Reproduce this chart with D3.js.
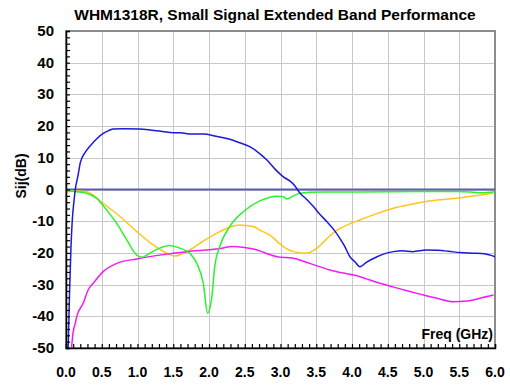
<!DOCTYPE html>
<html>
<head>
<meta charset="utf-8">
<script src="https://cdn.jsdelivr.net/npm/d3@7"></script>
<style>
  body { margin: 0; background: #fff; }
  svg { display: block; font-family: Arial, "Liberation Sans", sans-serif; }
</style>
</head>
<body>
<div id="chart"></div>
<script>
// values
const xTicks = [0, 0.5, 1, 1.5, 2, 2.5, 3, 3.5, 4, 4.5, 5, 5.5, 6];
const yTicks = [-50, -40, -30, -20, -10, 0, 10, 20, 30, 40, 50];

const blueF = [0.03, 0.05, 0.07, 0.09, 0.11, 0.13, 0.17, 0.2, 0.27, 0.34, 0.43, 0.52, 0.6, 0.66, 0.8, 1.03, 1.2, 1.35, 1.5, 1.6, 1.75, 1.92, 2.1, 2.25, 2.4, 2.57, 2.7, 2.81, 2.92, 3.04, 3.13, 3.2, 3.27, 3.36, 3.46, 3.55, 3.65, 3.74, 3.83, 3.9, 3.97, 4.05, 4.11, 4.2, 4.35, 4.45, 4.58, 4.7, 4.85, 5.04, 5.2, 5.35, 5.51, 5.7, 5.85, 5.93, 6.0];
const blueDb = [-50, -32, -18, -9, -4, 0, 4.6, 8.5, 11.8, 13.8, 16, 17.7, 18.6, 19.1, 19.2, 19.1, 18.7, 18.3, 17.9, 17.9, 17.5, 17.5, 16.8, 16.1, 15, 13.5, 11.5, 9.3, 6.5, 4.0, 2.7, 1.2, -1.1, -3, -5.4, -7.8, -10.2, -12.5, -15.4, -18, -21.2, -23, -24.4, -23, -21.2, -20.3, -19.6, -19.3, -19.6, -19.1, -19.2, -19.5, -19.9, -20.1, -20.3, -20.7, -21.2];

const greenF = [0, 0.15, 0.29, 0.43, 0.57, 0.71, 0.85, 0.99, 1.06, 1.17, 1.31, 1.45, 1.59, 1.73, 1.83, 1.92, 1.98, 2.04, 2.08, 2.15, 2.29, 2.48, 2.71, 2.95, 3.04, 3.09, 3.18, 3.27, 3.41, 3.6, 4.0, 4.5, 5.0, 5.5, 5.8, 6.0];
const greenDb = [-0.3, -0.7, -1.2, -2.8, -6.5, -10.7, -15.9, -20.7, -21.4, -20.1, -18.5, -17.7, -18.5, -20.1, -23.3, -29.6, -39, -33.8, -24.4, -18, -11.7, -7, -3.6, -2.1, -2.3, -3.0, -2.0, -1.2, -0.9, -0.8, -0.8, -0.7, -0.6, -0.6, -1.0, -0.7];

const orangeF = [0, 0.15, 0.29, 0.52, 0.76, 0.99, 1.22, 1.41, 1.52, 1.69, 1.87, 2.06, 2.25, 2.43, 2.62, 2.71, 2.85, 3.04, 3.18, 3.37, 3.51, 3.65, 3.79, 3.95, 4.11, 4.35, 4.58, 4.8, 5.04, 5.25, 5.51, 5.75, 5.98];
const orangeDb = [-0.8, -0.5, -0.7, -4.4, -8.6, -13.3, -17.5, -20.1, -21, -19.6, -17, -14.4, -12.2, -11.2, -11.7, -12.8, -14.4, -18, -19.6, -20.1, -18.5, -15.5, -12.8, -11, -9.6, -7.6, -5.9, -4.8, -3.8, -3.2, -2.6, -1.9, -1.2];

const magentaF = [0.07, 0.1, 0.13, 0.15, 0.24, 0.31, 0.38, 0.52, 0.71, 0.99, 1.31, 1.69, 2.11, 2.34, 2.62, 2.95, 3.18, 3.41, 3.69, 4.11, 4.39, 4.7, 4.95, 5.2, 5.42, 5.6, 5.79, 5.98];
const magentaDb = [-52, -45, -42.2, -40.1, -35.9, -31.7, -29.6, -25.9, -23.3, -21.9, -20.7, -19.6, -18.8, -18, -18.8, -21.2, -21.7, -23.3, -25.4, -27.5, -29.6, -31.5, -33, -34.4, -35.4, -35.2, -34.3, -33.3];

const zeroF = [0, 6];
const zeroDb = [0, 0];

const width = 510;
const height = 386;
const margin = { top: 31, right: 15, bottom: 38, left: 66 };

const svg = d3.select('#chart')
  .append('svg')
  .attr('width', width)
  .attr('height', height);

const x = d3.scaleLinear().domain([0, 6]).range([margin.left, width - margin.right]);
const y = d3.scaleLinear().domain([-50, 50]).range([height - margin.bottom, margin.top]);

// grid
svg.append('g')
  .attr('stroke', '#c8c8c8')
  .attr('stroke-width', 1)
  .call((g) => g.selectAll('line.v')
    .data(xTicks.slice(1, -1))
    .join('line')
    .attr('x1', (d) => Math.round(x(d)) + 0.5)
    .attr('x2', (d) => Math.round(x(d)) + 0.5)
    .attr('y1', y(50))
    .attr('y2', y(-50)))
  .call((g) => g.selectAll('line.h')
    .data(yTicks.slice(1, -1))
    .join('line')
    .attr('y1', (d) => Math.round(y(d)) + 0.5)
    .attr('y2', (d) => Math.round(y(d)) + 0.5)
    .attr('x1', x(0))
    .attr('x2', x(6)));

// frame (top / right grey)
svg.append('rect')
  .attr('x', x(0))
  .attr('y', y(50))
  .attr('width', x(6) - x(0))
  .attr('height', y(-50) - y(50))
  .attr('fill', 'none')
  .attr('stroke', '#8c8c8c')
  .attr('stroke-width', 2);

svg.append('clipPath')
  .attr('id', 'plot-clip')
  .append('rect')
  .attr('x', x(0))
  .attr('y', y(50))
  .attr('width', x(6) - x(0))
  .attr('height', y(-50) - y(50));

const line = d3.line()
  .x((d) => x(d[0]))
  .y((d) => y(d[1]))
  .curve(d3.curveMonotoneX);

const series = [
  { f: zeroF, db: zeroDb, color: '#5c5cb4', w: 2 },
  { f: orangeF, db: orangeDb, color: '#ffc619', w: 1.5 },
  { f: magentaF, db: magentaDb, color: '#f21cf2', w: 1.5 },
  { f: greenF, db: greenDb, color: '#2ef02e', w: 1.5 },
  { f: blueF, db: blueDb, color: '#1a1ad6', w: 1.5 },
];

const plot = svg.append('g').attr('clip-path', 'url(#plot-clip)');

plot.selectAll('path')
  .data(series)
  .join('path')
  .attr('fill', 'none')
  .attr('stroke', (s) => s.color)
  .attr('stroke-width', (s) => s.w)
  .attr('d', (s) => line(d3.zip(s.f, s.db)));

// axes with inward minor ticks
const minorX = d3.range(0, 61).map((i) => i / 10);
const minorY = d3.range(-50, 51, 2);

svg.append('g')
  .attr('transform', `translate(0,${y(-50)})`)
  .call(d3.axisTop(x).tickValues(minorX).tickSize(4).tickFormat(''))
  .call((g) => g.select('.domain').attr('stroke', '#000').attr('stroke-width', 1.5))
  .call((g) => g.selectAll('.tick line').attr('stroke', '#000').attr('stroke-width', 1.2));

svg.append('g')
  .attr('transform', `translate(${x(0)},0)`)
  .call(d3.axisRight(y).tickValues(minorY).tickSize(4).tickFormat(''))
  .call((g) => g.select('.domain').attr('stroke', '#000').attr('stroke-width', 1.5))
  .call((g) => g.selectAll('.tick line').attr('stroke', '#000').attr('stroke-width', 1.2));

// tick labels
svg.append('g')
  .selectAll('text')
  .data(xTicks)
  .join('text')
  .attr('x', (d) => x(d))
  .attr('y', 377)
  .attr('text-anchor', 'middle')
  .attr('font-size', 14)
  .attr('font-weight', 'bold')
  .text((d) => d.toFixed(1));

svg.append('g')
  .selectAll('text')
  .data(yTicks)
  .join('text')
  .attr('x', 54)
  .attr('y', (d) => y(d) + 5)
  .attr('text-anchor', 'end')
  .attr('font-size', 15)
  .attr('font-weight', 'bold')
  .text((d) => d);

svg.append('text')
  .attr('x', 275)
  .attr('y', 20)
  .attr('text-anchor', 'middle')
  .attr('font-size', 15.5)
  .attr('font-weight', 'bold')
  .text('WHM1318R, Small Signal Extended Band Performance');

svg.append('text')
  .attr('x', 493)
  .attr('y', 339)
  .attr('text-anchor', 'end')
  .attr('font-size', 14)
  .attr('font-weight', 'bold')
  .text('Freq (GHz)');

svg.append('text')
  .attr('transform', 'translate(26,176) rotate(-90)')
  .attr('text-anchor', 'middle')
  .attr('font-size', 14)
  .attr('font-weight', 'bold')
  .text('Sij(dB)');
</script>
</body>
</html>
